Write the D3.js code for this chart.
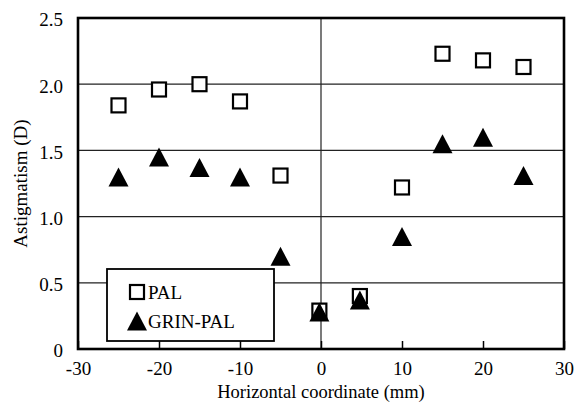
<!DOCTYPE html>
<html>
<head>
<meta charset="utf-8">
<script src="https://cdn.jsdelivr.net/npm/d3@7"></script>
<style>
  body { margin: 0; background: #fff; }
  text { font-family: 'Liberation Serif', 'Times New Roman', serif; fill: #000; }
</style>
</head>
<body>
<div id="wrapper"></div>
<script>
// data
const positions = [-25, -20, -15, -10, -5, -0.2, 4.8, 10, 15, 20, 25];
const palValues = [1.84, 1.96, 2.0, 1.87, 1.31, 0.29, 0.4, 1.22, 2.23, 2.18, 2.13];
const grinValues = [1.3, 1.45, 1.37, 1.3, 0.7, 0.28, 0.37, 0.85, 1.55, 1.6, 1.31];
const xTicks = [-30, -20, -10, 0, 10, 20, 30];
const yTicks = [0, 0.5, 1.0, 1.5, 2.0, 2.5];
const seriesNames = ['PAL', 'GRIN-PAL'];

// 1. dimensions
const dimensions = {
  width: 577,
  height: 403,
  margin: { top: 18, right: 13, bottom: 54, left: 78 },
};
dimensions.boundedWidth =
  dimensions.width - dimensions.margin.left - dimensions.margin.right;
dimensions.boundedHeight =
  dimensions.height - dimensions.margin.top - dimensions.margin.bottom;

// 2. canvas
const wrapper = d3
  .select('#wrapper')
  .append('svg')
  .attr('width', dimensions.width)
  .attr('height', dimensions.height);

const bounds = wrapper
  .append('g')
  .attr('transform', `translate(${dimensions.margin.left},${dimensions.margin.top})`);

// 3. scales
const xScale = d3.scaleLinear().domain([-30, 30]).range([0, dimensions.boundedWidth]);
const yScale = d3.scaleLinear().domain([0, 2.5]).range([dimensions.boundedHeight, 0]);

// 4. grid + zero line
bounds
  .selectAll('.grid')
  .data(yTicks.filter((d) => d > 0 && d < 2.5))
  .enter()
  .append('line')
  .attr('x1', 0)
  .attr('x2', dimensions.boundedWidth)
  .attr('y1', (d) => yScale(d))
  .attr('y2', (d) => yScale(d))
  .attr('stroke', '#222')
  .attr('stroke-width', 1.2);

bounds
  .append('line')
  .attr('x1', xScale(0))
  .attr('x2', xScale(0))
  .attr('y1', 0)
  .attr('y2', dimensions.boundedHeight)
  .attr('stroke', '#222')
  .attr('stroke-width', 1.2);

// 5. axes
const xAxisGenerator = d3
  .axisBottom(xScale)
  .tickValues(xTicks)
  .tickSizeInner(-8)
  .tickSizeOuter(0)
  .tickPadding(13)
  .tickFormat(d3.format('d'));

const xAxis = bounds
  .append('g')
  .attr('transform', `translate(0,${dimensions.boundedHeight})`)
  .call(xAxisGenerator);
xAxis.select('.domain').remove();
xAxis.selectAll('line').attr('stroke', '#000').attr('stroke-width', 1.5);
xAxis.selectAll('text').style('font-size', '19px').text((d) => (d < 0 ? '-' + Math.abs(d) : d));

const yAxisGenerator = d3
  .axisLeft(yScale)
  .tickValues(yTicks)
  .tickSize(0)
  .tickPadding(15)
  .tickFormat((d) => (d === 0 ? '0' : d3.format('.1f')(d)));

const yAxis = bounds.append('g').call(yAxisGenerator);
yAxis.select('.domain').remove();
yAxis.selectAll('text').style('font-size', '19px').attr('dy', '0.42em');

// frame
bounds
  .append('rect')
  .attr('width', dimensions.boundedWidth)
  .attr('height', dimensions.boundedHeight)
  .attr('fill', 'none')
  .attr('stroke', '#000')
  .attr('stroke-width', 2.6);

// axis titles
wrapper
  .append('text')
  .attr('x', dimensions.margin.left + xScale(0))
  .attr('y', 398)
  .attr('text-anchor', 'middle')
  .style('font-size', '18.5px')
  .text('Horizontal coordinate (mm)');

wrapper
  .append('text')
  .attr('transform', `translate(27,${dimensions.margin.top + dimensions.boundedHeight / 2}) rotate(-90)`)
  .attr('text-anchor', 'middle')
  .style('font-size', '19px')
  .text('Astigmatism (D)');

// markers
const squareSide = 14;
const triangle = (cx, cy) => {
  const p = d3.path();
  p.moveTo(cx, cy - 9.5);
  p.lineTo(cx + 10, cy + 9.5);
  p.lineTo(cx - 10, cy + 9.5);
  p.closePath();
  return p.toString();
};

const drawSquare = (sel) =>
  sel
    .attr('width', squareSide)
    .attr('height', squareSide)
    .attr('fill', '#fff')
    .attr('stroke', '#000')
    .attr('stroke-width', 2.2);

const legendBox = { x: 29, y: 251, width: 167, height: 72 };

// legend drawn below the data so markers at centre stay visible
const legend = bounds.append('g');
legend
  .append('rect')
  .attr('x', legendBox.x)
  .attr('y', legendBox.y)
  .attr('width', legendBox.width)
  .attr('height', legendBox.height)
  .attr('fill', '#fff')
  .attr('stroke', '#000')
  .attr('stroke-width', 1.8);

legend
  .append('rect')
  .call(drawSquare)
  .attr('x', legendBox.x + 30 - squareSide / 2)
  .attr('y', legendBox.y + 23 - squareSide / 2);
legend
  .append('path')
  .attr('d', triangle(legendBox.x + 30, legendBox.y + 52))
  .attr('fill', '#000');
legend
  .selectAll('.legend-label')
  .data(seriesNames)
  .enter()
  .append('text')
  .attr('x', legendBox.x + 41)
  .attr('y', (d, i) => legendBox.y + 30 + i * 29)
  .style('font-size', '19px')
  .text((d) => d);

bounds
  .selectAll('.pal')
  .data(positions)
  .enter()
  .append('rect')
  .attr('class', 'pal')
  .call(drawSquare)
  .attr('x', (d) => xScale(d) - squareSide / 2)
  .attr('y', (d, i) => yScale(palValues[i]) - squareSide / 2);

bounds
  .selectAll('.grin')
  .data(positions)
  .enter()
  .append('path')
  .attr('class', 'grin')
  .attr('d', (d, i) => triangle(xScale(d), yScale(grinValues[i])))
  .attr('fill', '#000');
</script>
</body>
</html>
